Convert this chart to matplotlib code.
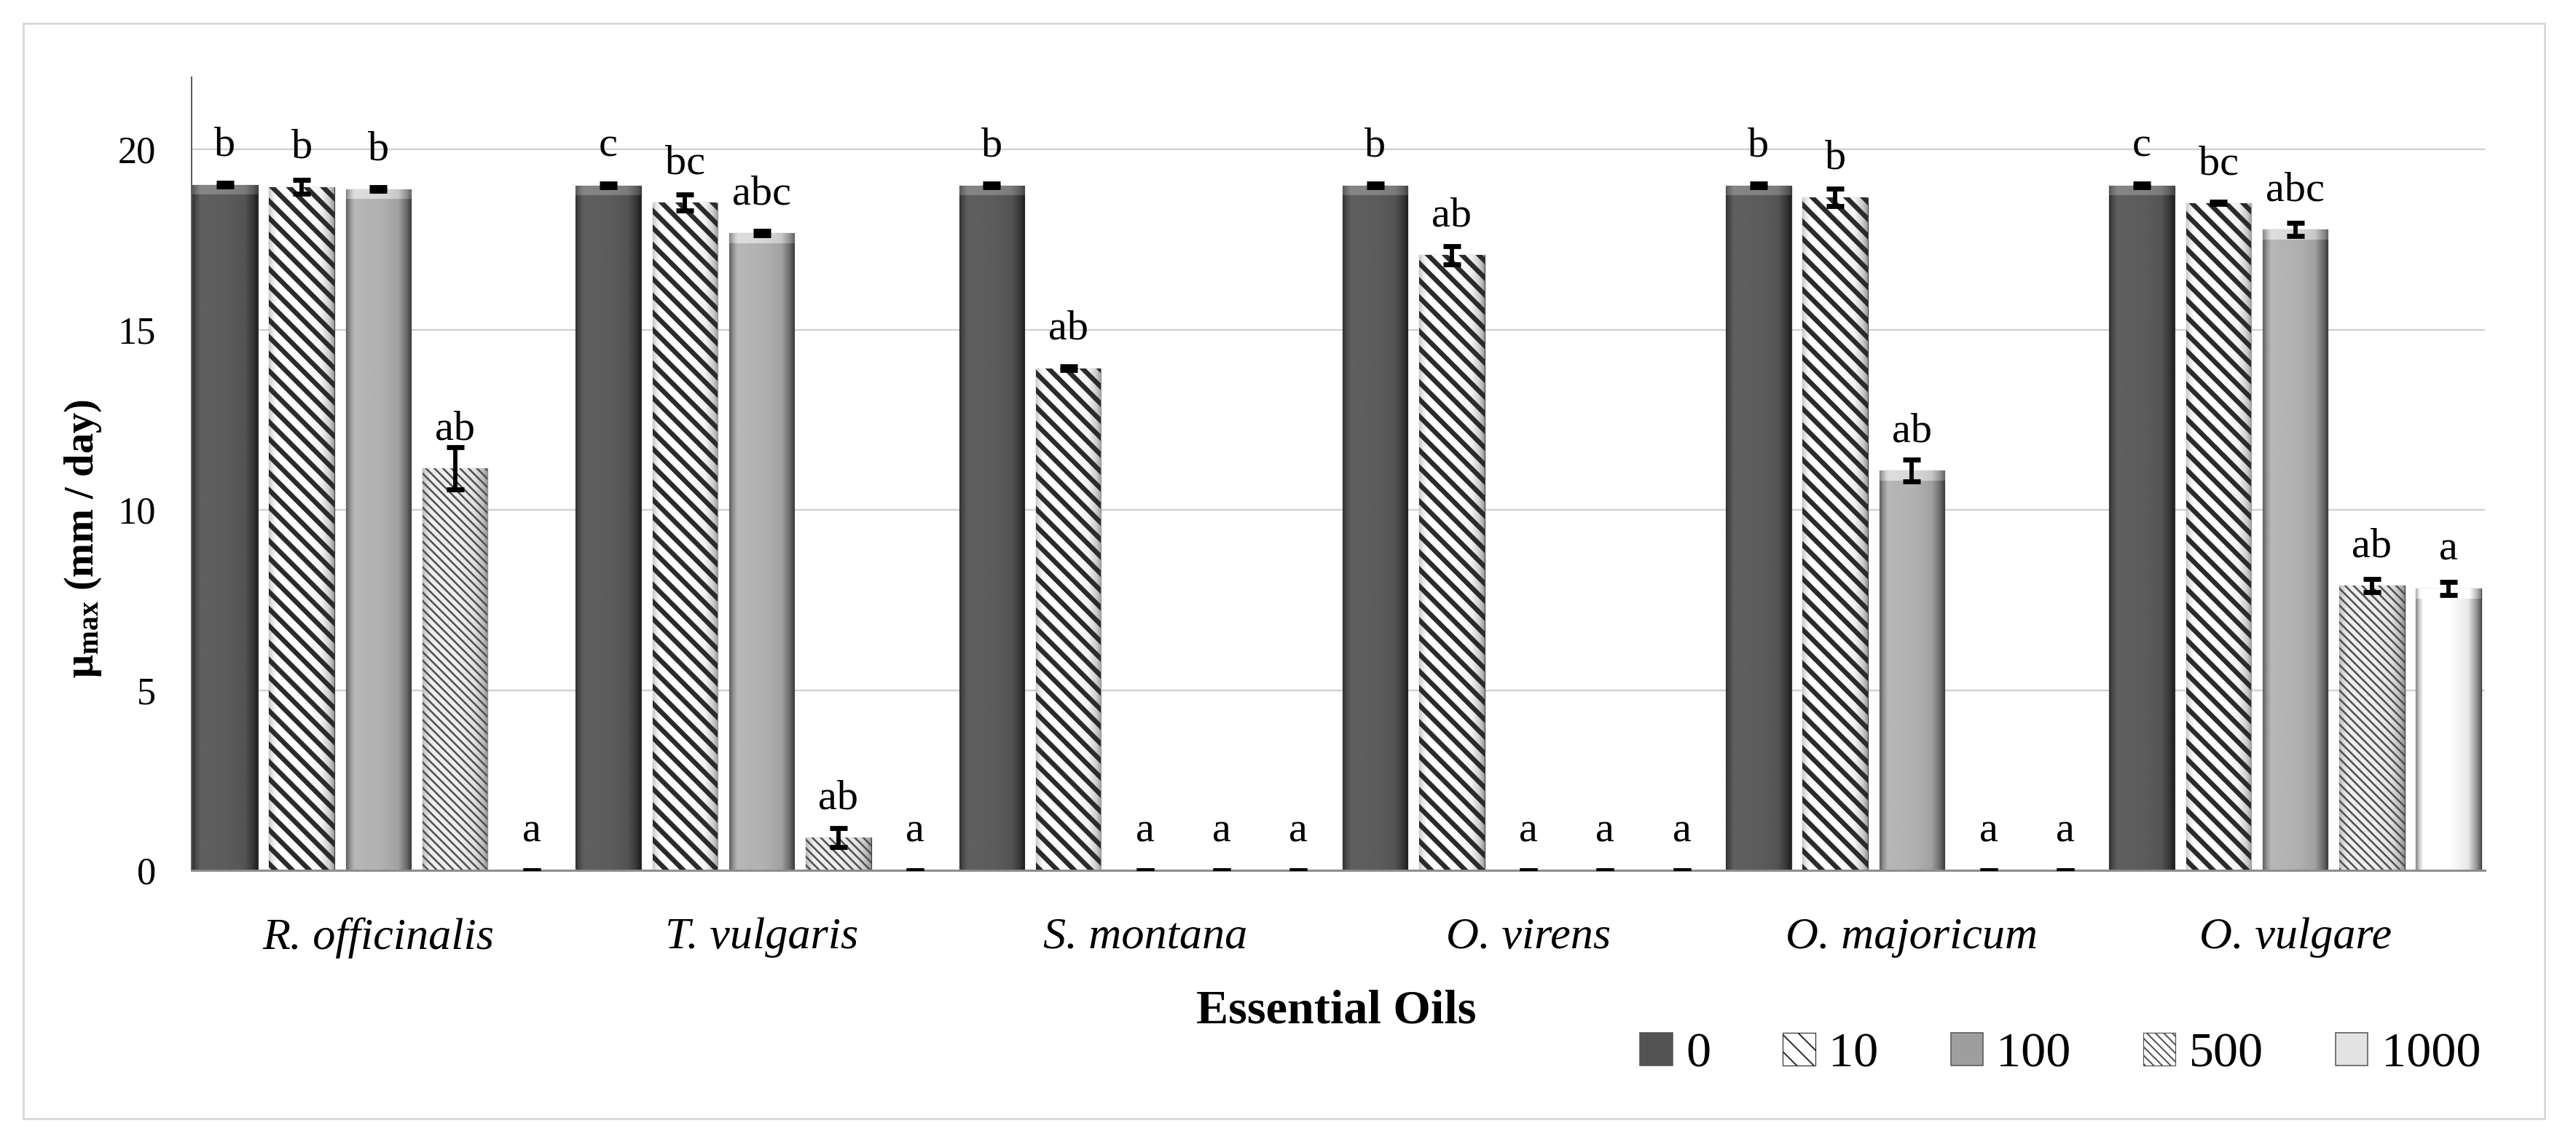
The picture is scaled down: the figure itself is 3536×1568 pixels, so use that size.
import numpy as np
import matplotlib
matplotlib.use("Agg")
import matplotlib.pyplot as plt
from matplotlib.patches import Patch, Rectangle

plt.rcParams['font.family'] = ['Liberation Serif', 'DejaVu Serif']
plt.rcParams['mathtext.fontset'] = 'custom'
plt.rcParams['mathtext.rm'] = 'Liberation Serif'
plt.rcParams['mathtext.bf'] = 'Liberation Serif:bold'
plt.rcParams['mathtext.it'] = 'Liberation Serif:italic'

# data
oils = ['R. officinalis', 'T. vulgaris', 'S. montana', 'O. virens', 'O. majoricum', 'O. vulgare']
doses = ['0', '10', '100', '500', '1000']

mu_0 = [19.02, 19.0, 19.0, 19.0, 19.0, 19.0]
mu_10 = [18.96, 18.52, 13.93, 17.07, 18.67, 18.51]
mu_100 = [18.9, 17.68, 0, 0, 11.1, 17.78]
mu_500 = [11.15, 0.92, 0, 0, 0, 7.9]
mu_1000 = [0, 0, 0, 0, 0, 7.82]

err_0 = [0.05, 0.05, 0.05, 0.05, 0.05, 0.05]
err_10 = [0.2, 0.22, 0.05, 0.25, 0.25, 0.03]
err_100 = [0.05, 0.06, 0, 0, 0.3, 0.18]
err_500 = [0.58, 0.26, 0, 0, 0, 0.18]
err_1000 = [0, 0, 0, 0, 0, 0.19]

let_0 = ['b', 'c', 'b', 'b', 'b', 'c']
let_10 = ['b', 'bc', 'ab', 'ab', 'b', 'bc']
let_100 = ['b', 'abc', 'a', 'a', 'ab', 'abc']
let_500 = ['ab', 'ab', 'a', 'a', 'a', 'ab']
let_1000 = ['a', 'a', 'a', 'a', 'a', 'a']

series = [mu_0, mu_10, mu_100, mu_500, mu_1000]
errors = [err_0, err_10, err_100, err_500, err_1000]
letters = [let_0, let_10, let_100, let_500, let_1000]

# look of each dose: base grey level, hatch
styles = [
    dict(base=0.36, hatch=None),
    dict(base=1.0, hatch='\\\\', hcolor='#2b2b2b', hlw=3.4),
    dict(base=0.69, hatch=None),
    dict(base=0.93, hatch='\\\\\\\\', hcolor='#505050', hlw=1.3),
    dict(base=0.99, hatch=None),
]


def profile(base, hatched, n=80):
    # horizontal shading that mimics the excel bevel
    t = np.linspace(0, 1, n)
    knots = [0, 0.05, 0.12, 0.55, 0.8, 0.93, 1.0]
    if hatched:
        mult = [0.8, 0.9, 1.0, 1.0, 0.95, 0.8, 0.62]
    else:
        mult = [0.55, 0.8, 1.04, 1.0, 0.92, 0.6, 0.35]
    return np.clip(base * np.interp(t, knots, mult), 0, 1)


fig = plt.figure(figsize=(3536 / 140, 1568 / 140), dpi=140)
ax = fig.add_axes([0.07427, 0.23776, 0.8904, 0.6946])

x = np.arange(len(oils)) + 0.5
width = 0.17
step = 0.2

for j, (vals, err, lets, st) in enumerate(zip(series, errors, letters, styles)):
    pos = x + (j - 2) * step
    hatched = st['hatch'] is not None
    bars = ax.bar(pos, vals, width, color=str(st['base']), edgecolor='#3a3a3a',
                  linewidth=0.6, zorder=2)
    for rect in bars:
        h = rect.get_height()
        if h <= 0:
            continue
        x0 = rect.get_x()
        x1 = x0 + rect.get_width()
        im = ax.imshow(np.tile(profile(st['base'], hatched), (2, 1)), extent=[x0, x1, 0, h],
                       cmap='gray', vmin=0, vmax=1, aspect='auto', interpolation='bilinear', zorder=2.1)
        im.set_clip_path(rect)
        if not hatched:
            top = np.tile(np.clip(profile(st['base'], False) + 0.15, 0, 1), (2, 1))
            im2 = ax.imshow(top, extent=[x0, x1, max(h - 0.28, 0), h], cmap='gray', vmin=0, vmax=1,
                            aspect='auto', interpolation='bilinear', zorder=2.2)
            im2.set_clip_path(rect)
    if hatched:
        with plt.rc_context({'hatch.linewidth': st['hlw']}):
            hb = ax.bar(pos, vals, width, facecolor='none', edgecolor=st['hcolor'],
                        hatch=st['hatch'], linewidth=0, zorder=2.3)
        for p in hb:
            if hasattr(p, 'set_hatch_linewidth'):
                p.set_hatch_linewidth(st['hlw'])
    ax.errorbar(pos, vals, yerr=err, fmt='none', ecolor='black', elinewidth=3,
                capsize=6, capthick=3.5, zorder=4)
    for p, v, l in zip(pos, vals, lets):
        ax.text(p, v + 0.8, l, ha='center', va='baseline', fontsize=30, zorder=5)

ax.set_xlim(0.012, 5.995)
ax.set_ylim(0, 22)
ax.set_yticks([0, 5, 10, 15, 20])
ax.set_xticks(x, oils, fontstyle='italic', fontsize=32)
ax.tick_params(axis='y', length=0, pad=25, labelsize=27)
ax.tick_params(axis='x', length=0, pad=33)
ax.set_axisbelow(True)
ax.grid(axis='y', color='#d0d0d0', linewidth=1.2)
ax.spines['top'].set_visible(False)
ax.spines['right'].set_visible(False)
ax.spines['left'].set_color('#595959')
ax.spines['left'].set_linewidth(1.0)
ax.spines['bottom'].set_color('#8c8c8c')
ax.spines['bottom'].set_linewidth(1.5)

fig.text(0.0322, 0.528, r'$\mathbf{μ_{max}}$ (mm / day)', rotation=90, ha='center', va='center',
         fontsize=29, fontweight='bold')
fig.text(0.5187, 0.104, 'Essential Oils', ha='center', va='baseline', fontsize=34, fontweight='bold')

handles = []
for st in styles:
    if st['hatch']:
        with plt.rc_context({'hatch.linewidth': st['hlw']}):
            hp = Patch(facecolor='white', edgecolor=st['hcolor'], hatch=st['hatch'], linewidth=0.6)
        if hasattr(hp, 'set_hatch_linewidth'):
            hp.set_hatch_linewidth(st['hlw'])
    else:
        hp = Patch(facecolor=str(st['base'] * 0.9), edgecolor='#555555', linewidth=0.8)
    handles.append(hp)

fig.legend(handles, doses, loc='center right', bbox_to_anchor=(0.963, 0.0765), ncol=5,
           frameon=False, fontsize=35, handlelength=0.65, handleheight=0.65,
           handletextpad=0.27, columnspacing=1.46, borderpad=0, borderaxespad=0)

fig.add_artist(Rectangle((32 / 3536, 1 - 1536 / 1568), (3493 - 32) / 3536, (1536 - 32) / 1568,
                         transform=fig.transFigure, fill=False, edgecolor='#d9d9d9', linewidth=1.5))

fig.savefig('out.png', dpi=140)
